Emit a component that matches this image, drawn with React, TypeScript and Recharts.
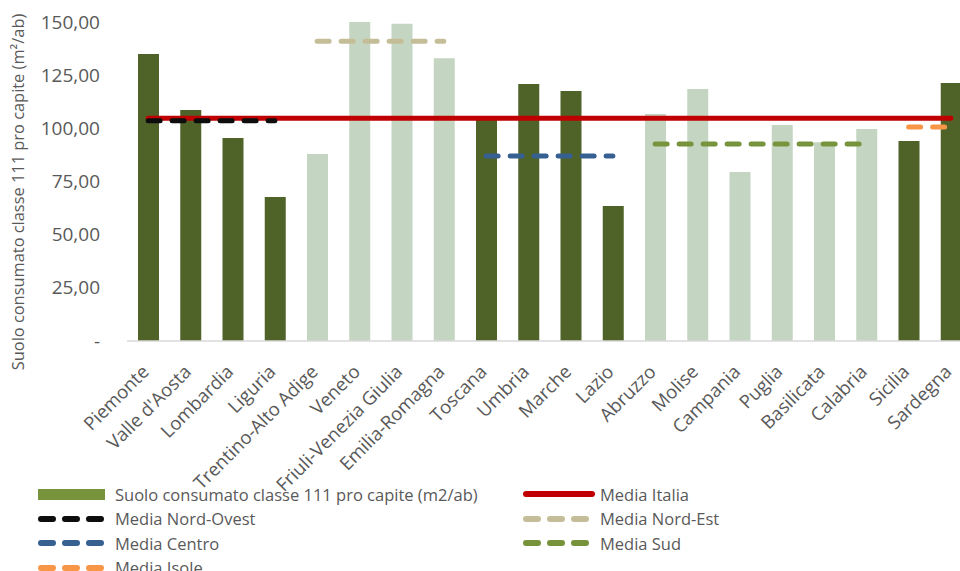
import React from 'react';
import { ComposedChart, Bar, Cell, Line, XAxis, YAxis } from 'recharts';

const regions = [
  'Piemonte', "Valle d'Aosta", 'Lombardia', 'Liguria', 'Trentino-Alto Adige', 'Veneto',
  'Friuli-Venezia Giulia', 'Emilia-Romagna', 'Toscana', 'Umbria', 'Marche', 'Lazio',
  'Abruzzo', 'Molise', 'Campania', 'Puglia', 'Basilicata', 'Calabria', 'Sicilia', 'Sardegna',
];
const suolo = [135.0, 108.6, 95.4, 67.7, 87.9, 150.0, 149.2, 133.0, 104.5, 120.8, 117.5, 63.5,
  106.7, 118.5, 79.5, 101.6, 93.5, 99.7, 94.0, 121.3];
// true = dark bar (Nord-Ovest, Centro, Isole)
const dark = [true, true, true, true, false, false, false, false, true, true, true, true,
  false, false, false, false, false, false, true, true];

const mediaItalia = [104.8, 104.8, 104.8, 104.8, 104.8, 104.8, 104.8, 104.8, 104.8, 104.8,
  104.8, 104.8, 104.8, 104.8, 104.8, 104.8, 104.8, 104.8, 104.8, 104.8];
const mediaNordOvest = [103.6, 103.6, 103.6, 103.6, null, null, null, null, null, null,
  null, null, null, null, null, null, null, null, null, null];
const mediaNordEst = [null, null, null, null, 140.9, 140.9, 140.9, 140.9, null, null,
  null, null, null, null, null, null, null, null, null, null];
const mediaCentro = [null, null, null, null, null, null, null, null, 87.0, 87.0,
  87.0, 87.0, null, null, null, null, null, null, null, null];
const mediaSud = [null, null, null, null, null, null, null, null, null, null,
  null, null, 92.6, 92.6, 92.6, 92.6, 92.6, 92.6, null, null];
const mediaIsole = [null, null, null, null, null, null, null, null, null, null,
  null, null, null, null, null, null, null, null, 100.6, 100.6];

const yTicks = [0, 25, 50, 75, 100, 125, 150];

const data = regions.map((r, i) => ({
  name: r,
  suolo: suolo[i],
  italia: mediaItalia[i],
  nordOvest: mediaNordOvest[i],
  nordEst: mediaNordEst[i],
  centro: mediaCentro[i],
  sud: mediaSud[i],
  isole: mediaIsole[i],
}));

const TEXT = '#595959';
const DARK = '#4F6228';
const LIGHT = '#C4D6C1';
const FONT = "'Open Sans', sans-serif";

const fmt = (v: number) => (v === 0 ? '-' : v.toFixed(2).replace('.', ','));

const XTick = ({ x, y, payload }: any) => {
  const tx = x + 2;
  const ty = y + 24;
  return (
    <text
      x={tx}
      y={ty}
      transform={`rotate(-45, ${tx}, ${ty})`}
      textAnchor="end"
      fill={TEXT}
      fontSize={18.5}
      fontFamily={FONT}
    >
      {payload.value}
    </text>
  );
};

const YTick = ({ x, y, payload }: any) => (
  <text x={x} y={y} dy={6.5} textAnchor="end" fill={TEXT} fontSize={19} fontFamily={FONT}>
    {fmt(payload.value)}
  </text>
);

const legendItems = [
  { label: 'Suolo consumato classe 111 pro capite (m2/ab)', color: '#77933C', kind: 'bar', col: 0, row: 0 },
  { label: 'Media Italia', color: '#C00000', kind: 'solid', col: 1, row: 0 },
  { label: 'Media Nord-Ovest', color: '#0D0D0D', kind: 'dash', col: 0, row: 1 },
  { label: 'Media Nord-Est', color: '#C4BD97', kind: 'dash', col: 1, row: 1 },
  { label: 'Media Centro', color: '#376092', kind: 'dash', col: 0, row: 2 },
  { label: 'Media Sud', color: '#77933C', kind: 'dash', col: 1, row: 2 },
  { label: 'Media Isole', color: '#F79646', kind: 'dash', col: 0, row: 3 },
];

function Swatch({ kind, color }: { kind: string; color: string }) {
  return (
    <svg width={72} height={14} style={{ display: 'block' }}>
      {kind === 'bar' && <rect x={0} y={2} width={67} height={11} fill={color} />}
      {kind === 'solid' && (
        <line x1={3} y1={7} x2={69} y2={7} stroke={color} strokeWidth={6} strokeLinecap="round" />
      )}
      {kind === 'dash' && (
        <line x1={3} y1={7} x2={69} y2={7} stroke={color} strokeWidth={6}
          strokeLinecap="round" strokeDasharray="12 12" />
      )}
    </svg>
  );
}

export default function App() {
  return (
    <div style={{ position: 'absolute', left: 0, top: 0, width: 960, height: 571, overflow: 'hidden', background: '#fff' }}>
      <ComposedChart
        width={990}
        height={571}
        data={data}
        margin={{ top: 22, right: 18, left: 67, bottom: 0 }}
        barCategoryGap="50%"
      >
        <XAxis
          dataKey="name"
          interval={0}
          height={230}
          tick={<XTick />}
          tickLine={false}
          axisLine={{ stroke: '#D9D9D9', strokeWidth: 1.5 }}
        />
        <YAxis
          width={60}
          domain={[0, 150]}
          ticks={yTicks}
          axisLine={false}
          tickLine={false}
          tickSize={0}
          tickMargin={27}
          tick={<YTick />}
        />
        <Bar dataKey="suolo" isAnimationActive={false} barSize={21}>
          {data.map((d, i) => (
            <Cell key={d.name} fill={dark[i] ? DARK : LIGHT} />
          ))}
        </Bar>
        <Line dataKey="italia" stroke="#C00000" strokeWidth={5} strokeLinecap="round" dot={false} activeDot={false} isAnimationActive={false} />
        <Line dataKey="nordOvest" stroke="#0D0D0D" strokeWidth={5} strokeLinecap="round" strokeDasharray="12 12" dot={false} activeDot={false} isAnimationActive={false} />
        <Line dataKey="nordEst" stroke="#C4BD97" strokeWidth={5} strokeLinecap="round" strokeDasharray="12 12" dot={false} activeDot={false} isAnimationActive={false} />
        <Line dataKey="centro" stroke="#376092" strokeWidth={5} strokeLinecap="round" strokeDasharray="12 12" dot={false} activeDot={false} isAnimationActive={false} />
        <Line dataKey="sud" stroke="#77933C" strokeWidth={5} strokeLinecap="round" strokeDasharray="12 12" dot={false} activeDot={false} isAnimationActive={false} />
        <Line dataKey="isole" stroke="#F79646" strokeWidth={5} strokeLinecap="round" strokeDasharray="12 12" dot={false} activeDot={false} isAnimationActive={false} />
        <text
          x={24}
          y={192}
          transform="rotate(-90, 24, 192)"
          textAnchor="middle"
          fill={TEXT}
          fontSize={16.4}
          fontFamily={FONT}
        >
          Suolo consumato classe 111 pro capite (m²/ab)
        </text>
      </ComposedChart>
      {legendItems.map((it) => (
        <div
          key={it.label}
          style={{
            position: 'absolute',
            left: it.col === 0 ? 38 : 523,
            top: 494 - 12 + it.row * 24.5,
            height: 24,
            display: 'flex',
            alignItems: 'center',
            fontFamily: FONT,
            fontSize: 16.5,
            color: TEXT,
            whiteSpace: 'nowrap',
          }}
        >
          <Swatch kind={it.kind} color={it.color} />
          <span style={{ marginLeft: 5 }}>{it.label}</span>
        </div>
      ))}
    </div>
  );
}
